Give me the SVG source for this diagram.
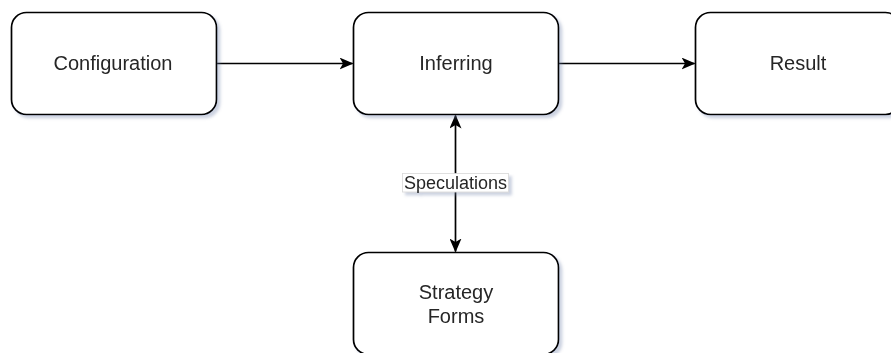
<svg xmlns="http://www.w3.org/2000/svg" width="891" height="353" viewBox="0 0 891 353">
  <defs>
    <filter id="shadow" x="-10%" y="-10%" width="130%" height="140%">
      <feGaussianBlur in="SourceAlpha" stdDeviation="1.5"/>
      <feOffset dx="3" dy="3" result="b"/>
      <feFlood flood-color="#6d7fa8" flood-opacity="0.35"/>
      <feComposite in2="b" operator="in"/>
      <feMerge><feMergeNode/><feMergeNode in="SourceGraphic"/></feMerge>
    </filter>
    <marker id="arrow" viewBox="0 0 14 12" refX="13" refY="6" markerWidth="14" markerHeight="12" markerUnits="userSpaceOnUse" orient="auto-start-reverse">
      <path d="M0,0 L14,6 L0,12 L3.5,6 Z" fill="#000"/>
    </marker>
  </defs>
  <style>
    .box { fill: #fff; stroke: #000; stroke-width: 1.7; }
    .lbl { font-family: "Liberation Sans", Arial, sans-serif; font-size: 20px; fill: #262626; text-anchor: middle; }
    .edge { fill: none; stroke: #000; stroke-width: 1.7; }
    .elbl { font-family: "Liberation Sans", Arial, sans-serif; font-size: 18px; fill: #262626; text-anchor: middle; }
  </style>
  <rect width="891" height="353" fill="#fff"/>
  <g id="connectors">
    <path class="edge" d="M216.5,63.5 L352.5,63.5" marker-end="url(#arrow)"/>
    <path class="edge" d="M558.5,63.5 L694.5,63.5" marker-end="url(#arrow)"/>
    <path class="edge" d="M455.5,115.5 L455.5,251.5" marker-start="url(#arrow)" marker-end="url(#arrow)"/>
    <g id="label-speculations" filter="url(#shadow)">
      <rect x="402.5" y="173.5" width="106" height="18.5" fill="#fff" stroke="#d8d8d8" stroke-width="0.8"/>
      <text class="elbl" x="455.5" y="189">Speculations</text>
    </g>
  </g>
  <g id="node-configuration" filter="url(#shadow)">
    <rect class="box" x="11.5" y="12.5" width="205" height="102" rx="15" ry="15"/>
    <text class="lbl" x="113" y="70">Configuration</text>
  </g>
  <g id="node-inferring" filter="url(#shadow)">
    <rect class="box" x="353.5" y="12.5" width="205" height="102" rx="15" ry="15"/>
    <text class="lbl" x="456" y="70">Inferring</text>
  </g>
  <g id="node-result" filter="url(#shadow)">
    <rect class="box" x="695.5" y="12.5" width="205" height="102" rx="15" ry="15"/>
    <text class="lbl" x="798" y="70">Result</text>
  </g>
  <g id="node-strategy-forms" filter="url(#shadow)">
    <rect class="box" x="353.5" y="252.5" width="205" height="102" rx="15" ry="15"/>
    <text class="lbl" x="456" y="299">Strategy</text>
    <text class="lbl" x="456" y="323">Forms</text>
  </g>
</svg>
